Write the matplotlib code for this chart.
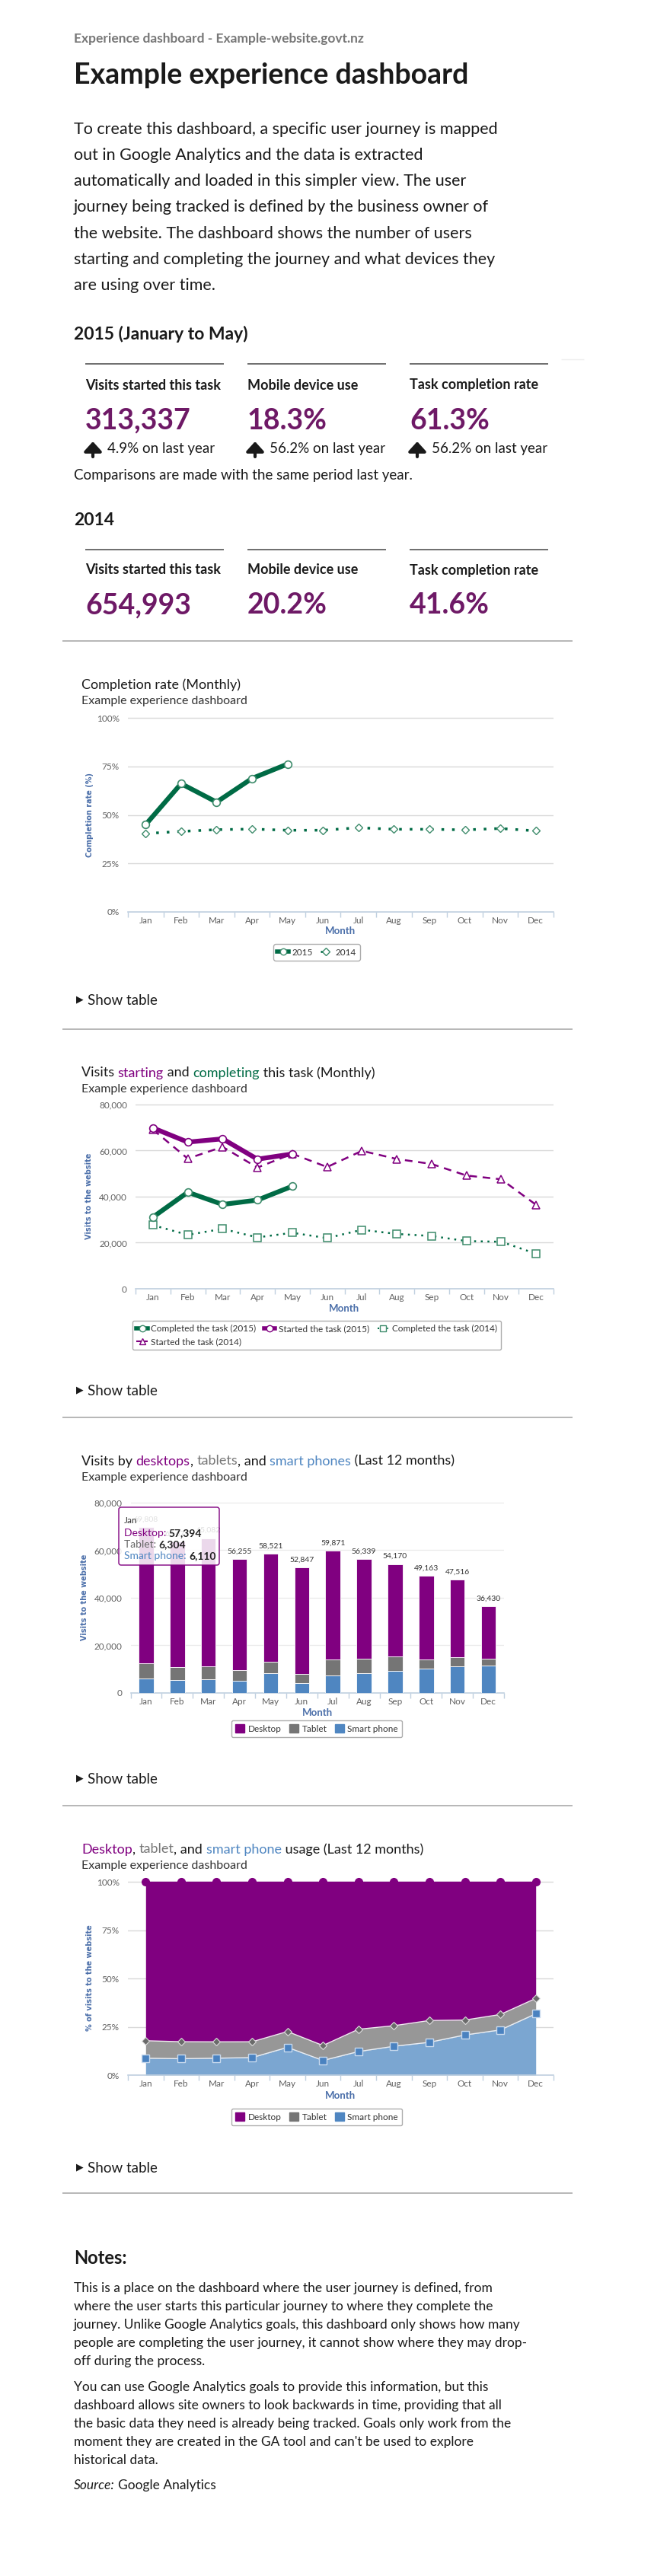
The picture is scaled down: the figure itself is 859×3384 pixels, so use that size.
import matplotlib
matplotlib.use("Agg")
import matplotlib.pyplot as plt
from matplotlib.lines import Line2D
from matplotlib.patches import Patch, FancyBboxPatch
import numpy as np

W, H = 859, 3384
FONT = ["Lato", "DejaVu Sans"]
plt.rcParams["font.family"] = FONT

PURPLE = "#800080"
GREEN = "#006b45"
GREEN_LT = "#3d8b6b"
GRAY = "#757575"
BLUE = "#4f86c1"
AXBLUE = "#4a6ea9"
INK = "#1a1a1a"

months = ["Jan", "Feb", "Mar", "Apr", "May", "Jun", "Jul", "Aug", "Sep", "Oct", "Nov", "Dec"]

# KPI tiles
kpi_labels = ["Visits started this task", "Mobile device use", "Task completion rate"]
kpi_2015 = ["313,337", "18.3%", "61.3%"]
kpi_change = ["4.9% on last year", "56.2% on last year", "56.2% on last year"]
kpi_2014 = ["654,993", "20.2%", "41.6%"]

# completion rate (%)
rate_2015 = [45.0, 66.1, 56.6, 68.8, 76.2]
rate_2014 = [40.4, 41.5, 42.4, 42.7, 42.1, 42.1, 43.4, 42.6, 42.6, 42.3, 43.0, 41.8]

# visits starting / completing
completed_2015 = [31100, 41900, 36600, 38500, 44500]
started_2015 = [69808, 63671, 65082, 56255, 58521]
completed_2014 = [27600, 23400, 26000, 22300, 24300, 22000, 25600, 23800, 22900, 20700, 20400, 15200]
started_2014 = [69100, 56500, 61600, 52600, 58600, 52847, 59871, 56339, 54170, 49163, 47516, 36430]

# devices, last 12 months
desktop = [57394, 52671, 53882, 46555, 45321, 44747, 45671, 41939, 38870, 35163, 32616, 21980]
tablet = [6304, 5600, 5500, 4600, 4800, 4100, 6900, 6000, 6100, 3800, 3800, 2900]
smart = [6110, 5400, 5700, 5100, 8400, 4000, 7300, 8400, 9200, 10200, 11100, 11550]

intro = ["To create this dashboard, a specific user journey is mapped",
         "out in Google Analytics and the data is extracted",
         "automatically and loaded in this simpler view. The user",
         "journey being tracked is defined by the business owner of",
         "the website. The dashboard shows the number of users",
         "starting and completing the journey and what devices they",
         "are using over time."]
notes1 = ["This is a place on the dashboard where the user journey is defined, from",
          "where the user starts this particular journey to where they complete the",
          "journey. Unlike Google Analytics goals, this dashboard only shows how many",
          "people are completing the user journey, it cannot show where they may drop-",
          "off during the process."]
notes2 = ["You can use Google Analytics goals to provide this information, but this",
          "dashboard allows site owners to look backwards in time, providing that all",
          "the basic data they need is already being tracked. Goals only work from the",
          "moment they are created in the GA tool and can't be used to explore",
          "historical data."]

fig = plt.figure(figsize=(W / 100, H / 100), dpi=100)
fig.patch.set_facecolor("white")
R = fig.canvas.get_renderer()

# overlay in pixel coordinates for page text and rules
ov = fig.add_axes([0, 0, 1, 1], zorder=5)
ov.set_xlim(0, W)
ov.set_ylim(H, 0)
ov.axis("off")
ov.patch.set_alpha(0)


def txt(x, y, s, size, color=INK, weight="normal", **kw):
    # y is the visual middle of the capitals; place on the baseline so
    # pieces of one line always share a baseline
    kw.setdefault("ha", "left")
    if kw.get("rotation"):
        kw.setdefault("va", "center")
    else:
        kw.setdefault("va", "baseline")
        y = y + 0.5 * size
    return ov.text(x, y, s, fontsize=size, color=color, fontweight=weight, **kw)


def width_of(s, size, weight="normal", style="normal"):
    t = ov.text(0, 0, "|" + s + "|", fontsize=size, fontweight=weight, style=style)
    t0 = ov.text(0, 0, "||", fontsize=size, fontweight=weight, style=style)
    w = t.get_window_extent(R).width - t0.get_window_extent(R).width
    t.remove()
    t0.remove()
    return w


def rich(x, y, parts, size):
    for s, c in parts:
        txt(x, y, s, size, color=c)
        x += width_of(s, size)


def rule(x0, x1, y, color="#aaaaaa", lw=1.2):
    ov.plot([x0, x1], [y, y], color=color, lw=lw, solid_capstyle="butt")


def show_table(y):
    ov.text(100, y, "\u25B6", fontsize=9, family="DejaVu Sans", va="center", ha="left", color=INK)
    txt(115, y, "Show table", 13.5)


def up_arrow(x, y):
    ov.annotate("", xy=(x, y - 10), xytext=(x, y + 10),
                arrowprops=dict(arrowstyle="-|>,head_length=0.55,head_width=0.5",
                                lw=3, color=INK, mutation_scale=14, shrinkA=0, shrinkB=0))


# ---- header
txt(97, 50, "Experience dashboard - Example-website.govt.nz", 12.5, color="#777777", weight="bold")
txt(97, 97, "Example experience dashboard", 27, weight="bold")
for i, line in enumerate(intro):
    txt(97, 168 + i * 34.2, line, 15.5)

# ---- KPIs
kx = [112, 325, 538]
txt(97, 438, "2015 (January to May)", 16.5, weight="bold")
for i in range(3):
    rule(kx[i], kx[i] + 182, 478, color="#555555", lw=1.2)
    txt(kx[i], 505, kpi_labels[i], 13, weight="bold")
    txt(kx[i], 550, kpi_2015[i], 27, color="#6e1966", weight="bold")
    up_arrow(kx[i] + 10, 590)
    txt(kx[i] + 29, 588, kpi_change[i], 13.5)
rule(737, 767, 472, color="#eeeeee", lw=1)
txt(97, 623, "Comparisons are made with the same period last year.", 13.5)

txt(97, 682, "2014", 16.5, weight="bold")
for i in range(3):
    rule(kx[i], kx[i] + 182, 722, color="#555555", lw=1.2)
    txt(kx[i], 748, kpi_labels[i], 13, weight="bold")
    txt(kx[i], 793, kpi_2014[i], 27, color="#6e1966", weight="bold")

for y in [842, 1352, 1862, 2372, 2881]:
    rule(82, 752, y)


# ---- chart helpers
def chart_axes(left, right, top, bottom):
    return fig.add_axes([left / W, 1 - bottom / H, (right - left) / W, (bottom - top) / H])


def style(ax, yticks, ylabels, grid="#d9d9d9", ypad=8):
    ax.set_xlim(-0.5, 11.5)
    for s in ["top", "right", "left"]:
        ax.spines[s].set_visible(False)
    ax.spines["bottom"].set_color("#c0d0e0")
    ax.spines["bottom"].set_linewidth(1.2)
    ax.set_yticks(yticks)
    ax.set_yticklabels(ylabels)
    ax.yaxis.grid(True, color=grid, lw=1)
    ax.set_axisbelow(True)
    ax.tick_params(axis="y", length=0, labelsize=8.5, labelcolor="#606060", pad=ypad)
    ax.set_xticks(range(12))
    ax.set_xticklabels(months)
    ax.tick_params(axis="x", length=0, labelsize=8.5, labelcolor="#606060", pad=4)
    ax.set_xticks(np.arange(-0.5, 12, 1), minor=True)
    ax.tick_params(axis="x", which="minor", length=5, color="#c0d0e0", width=1)
    ax.patch.set_alpha(0)


def axis_titles(ylab, ymid, yx, mx, my):
    txt(yx, ymid, ylab, 7, color=AXBLUE, weight="bold", rotation=90, ha="center",
        family="DejaVu Sans")
    txt(mx, my, "Month", 9.5, color=AXBLUE, weight="bold", ha="center")


def legend(handles, labels, cx, cy, ncol, **kw):
    lg = fig.legend(handles, labels, loc="center", bbox_to_anchor=(cx / W, 1 - cy / H),
                    ncol=ncol, fontsize=8.5, frameon=True, fancybox=True,
                    edgecolor="#999999", borderpad=0.45, handletextpad=0.4,
                    columnspacing=0.9, **kw)
    lg.get_frame().set_linewidth(1)
    for t in lg.get_texts():
        t.set_color("#333333")
    return lg


x12 = np.arange(12)
x5 = np.arange(5)

# ---- chart 1: completion rate
txt(107, 898, "Completion rate (Monthly)", 13)
txt(107, 919, "Example experience dashboard", 11.5, color="#333333")
ax1 = chart_axes(168, 727, 942, 1198)
style(ax1, [0, 25, 50, 75, 100], ["0%", "25%", "50%", "75%", "100%"])
ax1.set_ylim(0, 100.4)
ax1.plot(x5, rate_2015, color=GREEN, lw=4.5, marker="o", ms=7, mfc="white",
         mec=GREEN_LT, mew=1.2, zorder=4)
ax1.plot(x12, rate_2014, color=GREEN, lw=2.5, ls=(0, (1, 3)), marker="D", ms=5.5,
         mfc="white", mec=GREEN_LT, mew=1, zorder=3)
axis_titles("Completion rate (%)", 1070, 118, 447, 1222)
legend([Line2D([], [], color=GREEN, lw=4, marker="o", ms=6, mfc="white", mec=GREEN_LT),
        Line2D([], [], color=GREEN, lw=2, ls=(0, (1, 2)), marker="D", ms=5, mfc="white", mec=GREEN_LT)],
       ["2015", "2014"], 416, 1251, 2, handlelength=1.2)
show_table(1313)

# ---- chart 2: visits starting/completing
rich(107, 1408, [("Visits ", INK), ("starting", PURPLE), (" and ", INK),
                 ("completing", GREEN), (" this task (Monthly)", INK)], 13)
txt(107, 1429, "Example experience dashboard", 11.5, color="#333333")
ax2 = chart_axes(178, 727, 1450, 1693)
style(ax2, [0, 20000, 40000, 60000, 80000], ["0", "20,000", "40,000", "60,000", "80,000"])
ax2.set_ylim(0, 80300)
ax2.plot(x5, completed_2015, color=GREEN, lw=4.5, marker="o", ms=7, mfc="white",
         mec=GREEN_LT, mew=1.2, zorder=5)
ax2.plot(x5, started_2015, color=PURPLE, lw=4.5, marker="o", ms=7, mfc="white",
         mec=PURPLE, mew=1.2, zorder=5)
ax2.plot(x12, completed_2014, color=GREEN, lw=1.8, ls=(0, (1, 2.5)), marker="s", ms=7,
         mfc="white", mec=GREEN_LT, mew=1.1, zorder=4)
ax2.plot(x12, started_2014, color=PURPLE, lw=1.8, ls=(0, (4, 3)), marker="^", ms=7,
         mfc="white", mec=PURPLE, mew=1.1, zorder=4)
axis_titles("Visits to the website", 1571, 117, 452, 1718)
legend([Line2D([], [], color=GREEN, lw=4, marker="o", ms=6, mfc="white", mec=GREEN_LT),
        Line2D([], [], color=PURPLE, lw=1.5, ls=(0, (3, 2)), marker="^", ms=6, mfc="white", mec=PURPLE),
        Line2D([], [], color=PURPLE, lw=4, marker="o", ms=6, mfc="white", mec=PURPLE),
        Line2D([], [], color=GREEN, lw=1.5, ls=(0, (1, 2)), marker="s", ms=6, mfc="white", mec=GREEN_LT)],
       ["Completed the task (2015)", "Started the task (2014)",
        "Started the task (2015)", "Completed the task (2014)"],
       416, 1754, 3, handlelength=1.2)
show_table(1826)

# ---- chart 3: stacked bars
rich(107, 1918, [("Visits by ", INK), ("desktops", PURPLE), (", ", INK), ("tablets", "#777777"),
                 (", and ", INK), ("smart phones", BLUE), (" (Last 12 months)", INK)], 13)
txt(107, 1939, "Example experience dashboard", 11.5, color="#333333")
ax3 = chart_axes(171.5, 662, 1973, 2224)
style(ax3, [0, 20000, 40000, 60000, 80000], ["0", "20,000", "40,000", "60,000", "80,000"],
      grid="#ebebeb")
ax3.set_ylim(0, 80300)
sm = np.array(smart)
tb = np.array(tablet)
dk = np.array(desktop)
bw = 0.48
ax3.bar(x12, sm, bw, color=BLUE, edgecolor="white", lw=0.6, zorder=3)
ax3.bar(x12, tb, bw, bottom=sm, color=GRAY, edgecolor="white", lw=0.6, zorder=3)
ax3.bar(x12, dk, bw, bottom=sm + tb, color=PURPLE, edgecolor="white", lw=0.6, zorder=3)
totals = sm + tb + dk
for i, t in enumerate(totals):
    ax3.annotate(f"{t:,}", (i, t), xytext=(0, 4), textcoords="offset points",
                 ha="center", va="bottom", fontsize=7.5, color="#333333")
axis_titles("Visits to the website", 2098, 111, 417, 2249)
legend([Patch(color=PURPLE), Patch(color=GRAY), Patch(color=BLUE)],
       ["Desktop", "Tablet", "Smart phone"], 416, 2271, 3, handlelength=1.0, handleheight=1.0)

# tooltip for January
tip = FancyBboxPatch((156, 1980), 132, 76, boxstyle="round,pad=0,rounding_size=3",
                     facecolor="white", alpha=0.85, edgecolor="none", zorder=6)
ov.add_patch(tip)
ov.add_patch(FancyBboxPatch((156, 1980), 132, 76, boxstyle="round,pad=0,rounding_size=3",
                            facecolor="none", edgecolor=PURPLE, lw=1, zorder=7))
txt(163, 1997, months[0], 8.5, color="#333333", zorder=8)
rich_rows = [("Desktop: ", PURPLE, desktop[0], 2013), ("Tablet: ", "#666666", tablet[0], 2028),
             ("Smart phone: ", BLUE, smart[0], 2043)]
for lab, col, val, yy in rich_rows:
    txt(163, yy, lab, 10, color=col, zorder=8)
    txt(163 + width_of(lab, 10), yy, f"{val:,}", 10, color="#222222", weight="bold", zorder=8)
show_table(2336)

# ---- chart 4: percentage areas
rich(107, 2428, [("Desktop", PURPLE), (", ", INK), ("tablet", "#777777"), (", and ", INK),
                 ("smart phone", BLUE), (" usage (Last 12 months)", INK)], 13)
txt(107, 2449, "Example experience dashboard", 11.5, color="#333333")
ax4 = chart_axes(168, 727, 2471, 2726)
style(ax4, [0, 25, 50, 75, 100], ["0%", "25%", "50%", "75%", "100%"])
ax4.set_ylim(0, 100.4)
p_sm = sm / totals * 100
p_tb = p_sm + tb / totals * 100
p_dk = p_tb + dk / totals * 100
ax4.fill_between(x12, 0, p_sm, color="#7ba6d1", lw=0, zorder=2)
ax4.fill_between(x12, p_sm, p_tb, color="#979797", lw=0, zorder=2)
ax4.fill_between(x12, p_tb, p_dk, color=PURPLE, lw=0, zorder=2)
ax4.plot(x12, p_sm, color="#e8eef6", lw=1, zorder=3)
ax4.plot(x12, p_tb, color="#eeeeee", lw=1, zorder=3)
ax4.plot(x12, p_dk, color=PURPLE, lw=1, zorder=3)
ax4.plot(x12, p_dk, ls="none", marker="o", ms=7, color=PURPLE, mec=PURPLE, zorder=4, clip_on=False)
ax4.plot(x12, p_tb, ls="none", marker="D", ms=5.5, color="#6a6a6a", mec="#dddddd", mew=0.8, zorder=4)
ax4.plot(x12, p_sm, ls="none", marker="s", ms=6.5, color="#4a82c0", mec="#c9daee", mew=1, zorder=4)
axis_titles("% of visits to the website", 2598, 118, 447, 2752)
legend([Patch(color=PURPLE), Patch(color=GRAY), Patch(color=BLUE)],
       ["Desktop", "Tablet", "Smart phone"], 416, 2781, 3, handlelength=1.0, handleheight=1.0)
show_table(2847)

# ---- notes
txt(97, 2965, "Notes:", 17, weight="bold")
for i, line in enumerate(notes1):
    txt(97, 3005 + i * 24, line, 12.5)
for i, line in enumerate(notes2):
    txt(97, 3135 + i * 24, line, 12.5)
txt(97, 3264, "Source:", 12.5, style="italic")
txt(97 + width_of("Source:", 12.5, style="italic") + 4, 3264, "Google Analytics", 12.5)

fig.savefig("out.png", dpi=100, facecolor="white")
